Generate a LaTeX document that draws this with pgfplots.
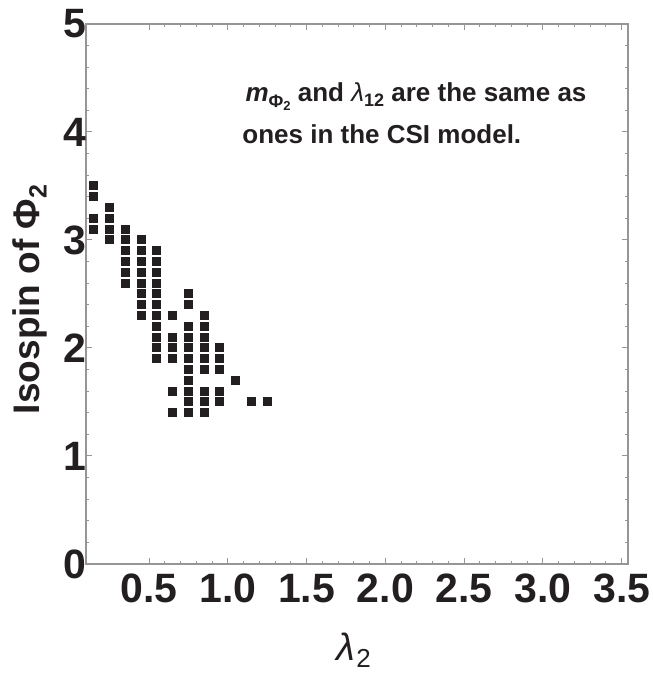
\documentclass[border=0pt]{standalone}
\usepackage{fontspec}
\setmainfont{Liberation Sans}
\usepackage{pgfplots}
\pgfplotsset{compat=1.18}
\definecolor{framegray}{RGB}{150,150,150}
\definecolor{ink}{RGB}{35,31,32}
\begin{document}
\begin{tikzpicture}
\begin{axis}[
  at={(0,0)}, anchor=south west,
  scale only axis,
  width=271pt, height=270pt,
  xmin=0.1, xmax=3.54, ymin=0, ymax=5,
  xtick={0.5,1.0,1.5,2.0,2.5,3.0,3.5},
  ytick={0,1,2,3,4,5},
  minor x tick num=4, minor y tick num=4,
  tick align=inside,
  major tick length=3pt, minor tick length=1.7pt,
  axis line style={framegray, line width=0.6pt},
  every tick/.style={framegray, line width=0.5pt},
  /pgf/number format/assume math mode=true,
  x tick label style={/pgf/number format/fixed, /pgf/number format/fixed zerofill, /pgf/number format/precision=1, yshift=-1.5pt},
  ticklabel style={font=\fontsize{20.5}{24}\selectfont\bfseries, text=ink},
  y tick label style={xshift=3.5pt},
  xlabel={\itshape λ\kern0.5pt\raisebox{-0.35ex}{\upshape\fontsize{13}{14}\selectfont 2}},
  xlabel style={font=\fontsize{19}{22}\selectfont, text=ink, at={(axis description cs:0.494,-0.16)}, anchor=center},
  ylabel={Isospin of Φ\raisebox{-0.35ex}{\fontsize{12.5}{14}\selectfont 2}},
  ylabel style={font=\fontsize{18.5}{22}\selectfont\bfseries, text=ink, at={(axis description cs:-0.103,0.49)}, anchor=center},
  clip=false,
]
\addplot[only marks, mark=square*, mark size=2pt, mark options={fill=ink, draw=ink, line width=0pt}] coordinates {
(0.15,3.5)
(0.15,3.4)
(0.25,3.3)
(0.15,3.2) (0.25,3.2)
(0.15,3.1) (0.25,3.1) (0.35,3.1)
(0.25,3.0) (0.35,3.0) (0.45,3.0)
(0.35,2.9) (0.45,2.9) (0.55,2.9)
(0.35,2.8) (0.45,2.8) (0.55,2.8)
(0.35,2.7) (0.45,2.7) (0.55,2.7)
(0.35,2.6) (0.45,2.6) (0.55,2.6)
(0.45,2.5) (0.55,2.5) (0.75,2.5)
(0.45,2.4) (0.55,2.4) (0.75,2.4)
(0.45,2.3) (0.55,2.3) (0.65,2.3) (0.85,2.3)
(0.55,2.2) (0.75,2.2) (0.85,2.2)
(0.55,2.1) (0.65,2.1) (0.75,2.1) (0.85,2.1)
(0.55,2.0) (0.65,2.0) (0.75,2.0) (0.85,2.0) (0.95,2.0)
(0.55,1.9) (0.65,1.9) (0.75,1.9) (0.85,1.9) (0.95,1.9)
(0.75,1.8) (0.85,1.8) (0.95,1.8)
(0.75,1.7) (1.05,1.7)
(0.65,1.6) (0.75,1.6) (0.85,1.6) (0.95,1.6)
(0.75,1.5) (0.85,1.5) (0.95,1.5) (1.15,1.5) (1.25,1.5)
(0.65,1.4) (0.75,1.4) (0.85,1.4)
};
\node[anchor=base west, inner sep=0pt, text=ink, font=\fontsize{13}{15}\selectfont\bfseries] at (axis cs:1.11,4.28)
  {{\itshape m}\raisebox{-0.4ex}{\fontsize{9}{10}\selectfont Φ\raisebox{-0.3ex}{\fontsize{6.5}{7}\selectfont 2}} and {\mdseries\itshape λ}\raisebox{-0.35ex}{\fontsize{9}{10}\selectfont 12} are the same as};
\node[anchor=base west, inner sep=0pt, text=ink, font=\fontsize{13}{15}\selectfont\bfseries] at (axis cs:1.09,3.89)
  {ones in the CSI model.};
\end{axis}
\pgfresetboundingbox
\path (-43pt,-54.5pt) rectangle (283pt,282pt);
\end{tikzpicture}
\end{document}
